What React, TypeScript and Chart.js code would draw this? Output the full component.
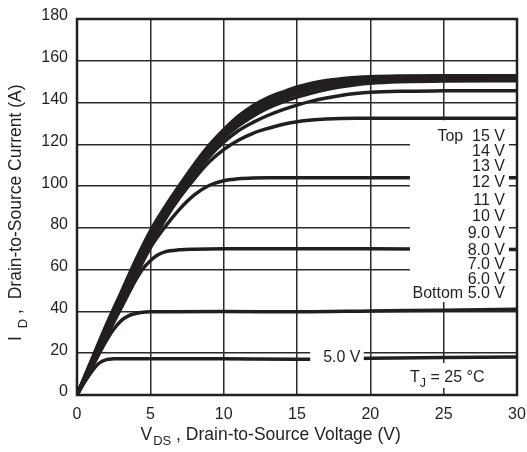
import React, { useEffect, useRef } from 'react';
import { Chart, registerables } from 'chart.js';

Chart.register(...registerables);

// ---- data ----
const VDS = [0, 1, 2, 3, 4, 5, 6, 7, 8, 9, 10, 11, 12, 13, 14, 15, 16, 17, 18, 19, 20, 22, 25, 30];
const ID_15V = [0, 16.8, 33.5, 49, 64.5, 78.5, 90, 100.5, 110.5, 119.5, 127, 133.5, 138.5, 142.3, 145, 147.5, 149.3, 150.6, 151.4, 152, 152.4, 152.7, 152.8, 152.8];
const ID_14V = [0, 16.5, 33, 48.2, 63.4, 77.4, 89, 99.5, 109.6, 118.5, 126, 132.4, 137.5, 141.3, 144.1, 146.5, 148.4, 149.7, 150.6, 151.2, 151.6, 152, 152.2, 152.2];
const ID_13V = [0, 16.2, 32.4, 47.4, 62.3, 76.3, 88, 98.5, 108.6, 117.5, 125, 131.2, 136.3, 140.2, 143.1, 145.4, 147.3, 148.7, 149.8, 150.5, 151, 151.4, 151.6, 151.6];
const ID_12V = [0, 15.9, 31.8, 46.6, 61.2, 75.2, 87, 97.5, 107.6, 116.5, 124, 130, 135, 138.8, 141.8, 144.2, 146.1, 147.6, 148.8, 149.6, 150.2, 150.7, 151, 151];
const ID_11V = [0, 15.6, 31.2, 45.8, 60.1, 74.1, 86, 96.5, 106.6, 115.5, 123, 128.8, 133.5, 137.3, 140.2, 142.6, 144.6, 146.2, 147.5, 148.5, 149.2, 149.9, 150.3, 150.4];
const ID_10V = [0, 15.3, 30.6, 45, 59, 73, 85, 95.5, 105.4, 114, 121, 126.5, 130.5, 133.8, 136.5, 138.8, 140.7, 142.2, 143.4, 144.3, 144.9, 145.4, 145.6, 145.7];
const ID_9V = [0, 15.1, 30.2, 44.3, 58, 72, 84, 94.5, 103.5, 111.5, 117.5, 122, 125.3, 127.6, 129.5, 130.8, 131.6, 132.1, 132.4, 132.5, 132.5, 132.5, 132.5, 132.5];
const ID_8V = [0, 14.8, 29.6, 43.5, 57, 70.5, 80.5, 89, 95.8, 100.3, 102.6, 103.5, 103.9, 104, 104, 104, 104, 104, 104, 104, 104, 104, 104, 104];

const VDS_7V = [0, 1, 2, 3, 4, 4.5, 5, 5.5, 6, 7, 8, 10, 15, 20, 25, 30];
const ID_7V = [0, 14, 28, 41.5, 55, 60.5, 64.3, 67, 68.5, 69.5, 69.8, 70, 70, 70, 69.8, 69.7];

const VDS_6V = [0, 1, 2, 2.5, 3, 3.5, 4, 4.5, 5, 10, 15, 20, 25, 30];
const ID_6V = [0, 13, 26, 31.5, 35.5, 37.9, 39, 39.6, 39.8, 40, 39.8, 40.2, 40.6, 41];

const VDS_5V = [0, 0.5, 1, 1.5, 2, 2.5, 3, 5, 10, 15, 20, 25, 30];
const ID_5V = [0, 6, 11.2, 15.2, 16.9, 17.3, 17.4, 17.4, 17.3, 17.1, 17.6, 17.9, 18.2];

const X_MIN = 0;
const X_MAX = 30;
const X_STEP = 5;
const Y_MIN = 0;
const Y_MAX = 180;
const Y_STEP = 10;
const Y_LABEL_STEP = 20;

const LEGEND_LABELS = ['Top  15 V', '14 V', '13 V', '12 V', '11 V', '10 V', '9.0 V', '8.0 V', '7.0 V', '6.0 V', 'Bottom 5.0 V'];
const LEGEND_BASELINES = [140.5, 155.5, 171.2, 187.2, 204.5, 220.5, 238.2, 255.2, 268.8, 283.8, 298.2];

const X_TITLE_MAIN = 'V';
const X_TITLE_SUB = 'DS';
const X_TITLE_REST = ' , Drain-to-Source Voltage (V)';
const Y_TITLE_MAIN = 'I';
const Y_TITLE_SUB = 'D';
const Y_TITLE_REST = ' ,  Drain-to-Source Current (A)';
const CURVE_LABEL = '5.0 V';
const TJ_MAIN = 'T';
const TJ_SUB = 'J';
const TJ_REST = ' = 25 °C';

const INK = '#231f20';
const FONT = '"Liberation Sans", Arial, Helvetica, sans-serif';

const pts = (xs: number[], ys: number[]) => xs.map((x, i) => ({ x, y: ys[i] }));

const annotations = {
  id: 'annotations',
  beforeDatasetsDraw(chart: any) {
    const { ctx, chartArea: a } = chart;
    ctx.save();
    ctx.strokeStyle = INK;
    ctx.lineWidth = 2.5;
    ctx.strokeRect(a.left, a.top, a.right - a.left, a.bottom - a.top);
    ctx.restore();
  },
  afterDatasetsDraw(chart: any) {
    const { ctx } = chart;
    const xs = chart.scales.x;
    const ys = chart.scales.y;
    const box = (x0: number, x1: number, y0: number, y1: number) => {
      const l = xs.getPixelForValue(x0);
      const r = xs.getPixelForValue(x1);
      const t = ys.getPixelForValue(y1);
      const b = ys.getPixelForValue(y0);
      ctx.fillStyle = '#ffffff';
      ctx.fillRect(l, t, r - l, b - t);
    };
    ctx.save();
    // legend box
    box(22.7, 29.45, 44.5, 131.5);
    // 5.0 V label box
    box(15.9, 19.55, 13.2, 23.8);
    // TJ box
    box(22.0, 29.7, 3.4, 15.3);

    ctx.fillStyle = INK;
    ctx.textBaseline = 'alphabetic';
    ctx.font = `16px ${FONT}`;
    ctx.textAlign = 'right';
    LEGEND_LABELS.forEach((t, i) => {
      ctx.fillText(t, 505, LEGEND_BASELINES[i]);
    });
    ctx.fillText(CURVE_LABEL, 360.5, 362);

    ctx.textAlign = 'left';
    let x = 410;
    ctx.font = `16px ${FONT}`;
    ctx.fillText(TJ_MAIN, x, 382);
    x += ctx.measureText(TJ_MAIN).width;
    ctx.font = `12.5px ${FONT}`;
    ctx.fillText(TJ_SUB, x, 387);
    x += ctx.measureText(TJ_SUB).width;
    ctx.font = `16px ${FONT}`;
    ctx.fillText(TJ_REST, x, 382);
    ctx.restore();
  },
  afterDraw(chart: any) {
    const { ctx } = chart;
    ctx.save();
    ctx.fillStyle = INK;
    ctx.textBaseline = 'alphabetic';
    ctx.textAlign = 'left';
    // x title
    let x = 140.5;
    ctx.font = `17.5px ${FONT}`;
    ctx.fillText(X_TITLE_MAIN, x, 440);
    x += ctx.measureText(X_TITLE_MAIN).width + 1;
    ctx.font = `13px ${FONT}`;
    ctx.fillText(X_TITLE_SUB, x, 445);
    x += ctx.measureText(X_TITLE_SUB).width;
    ctx.font = `17.5px ${FONT}`;
    ctx.fillText(X_TITLE_REST, x, 440);
    // y title
    ctx.translate(20.5, 341);
    ctx.rotate(-Math.PI / 2);
    let p = 0;
    ctx.font = `17.5px ${FONT}`;
    ctx.fillText(Y_TITLE_MAIN, p, 0);
    p += ctx.measureText(Y_TITLE_MAIN).width + 8;
    ctx.font = `13px ${FONT}`;
    ctx.fillText(Y_TITLE_SUB, p, 6);
    p += ctx.measureText(Y_TITLE_SUB).width;
    ctx.font = `17.5px ${FONT}`;
    ctx.fillText(Y_TITLE_REST, p, 0);
    ctx.restore();
  },
};

export default function App() {
  const ref = useRef<HTMLCanvasElement | null>(null);

  useEffect(() => {
    if (!ref.current) return;
    const curve = (data: { x: number; y: number }[]) => ({
      data,
      borderColor: INK,
      borderWidth: 3.5,
      pointRadius: 0,
      fill: false,
      cubicInterpolationMode: 'monotone' as const,
      borderCapStyle: 'round' as const,
      borderJoinStyle: 'round' as const,
    });
    const chart = new Chart(ref.current, {
      type: 'line',
      data: {
        datasets: [
          curve(pts(VDS_5V, ID_5V)),
          curve(pts(VDS_6V, ID_6V)),
          curve(pts(VDS_7V, ID_7V)),
          curve(pts(VDS, ID_8V)),
          curve(pts(VDS, ID_9V)),
          curve(pts(VDS, ID_10V)),
          curve(pts(VDS, ID_11V)),
          curve(pts(VDS, ID_12V)),
          curve(pts(VDS, ID_13V)),
          curve(pts(VDS, ID_14V)),
          curve(pts(VDS, ID_15V)),
        ],
      },
      options: {
        responsive: false,
        animation: false,
        devicePixelRatio: 1,
        layout: { padding: { left: 0, right: 10, top: 19, bottom: 0 } },
        plugins: { legend: { display: false }, tooltip: { enabled: false } },
        scales: {
          x: {
            type: 'linear',
            min: X_MIN,
            max: X_MAX,
            ticks: {
              stepSize: X_STEP,
              color: INK,
              font: { family: FONT, size: 16 },
              padding: 10,
              maxRotation: 0,
            },
            grid: { color: '#2a2a2a', lineWidth: 1.5, drawTicks: false },
            border: { display: false },
            afterFit: (s: any) => {
              s.height = 57;
              s.paddingLeft = 0;
              s.paddingRight = 0;
            },
          },
          y: {
            type: 'linear',
            min: Y_MIN,
            max: Y_MAX,
            ticks: {
              stepSize: Y_STEP,
              color: INK,
              font: { family: FONT, size: 16 },
              padding: 9,
              labelOffset: -3,
              callback: (v: any) => (Number(v) % Y_LABEL_STEP === 0 ? String(v) : ''),
            },
            grid: { color: '#2a2a2a', lineWidth: 1.5, drawTicks: false },
            border: { display: false },
            afterFit: (s: any) => {
              s.width = 77;
              s.paddingTop = 0;
              s.paddingBottom = 0;
            },
          },
        },
      },
      plugins: [annotations],
    });
    return () => chart.destroy();
  }, []);

  return (
    <div style={{ position: 'absolute', left: 0, top: 0, width: 527, height: 452, background: '#fff' }}>
      <canvas ref={ref} width={527} height={452} style={{ display: 'block', width: 527, height: 452 }} />
    </div>
  );
}
